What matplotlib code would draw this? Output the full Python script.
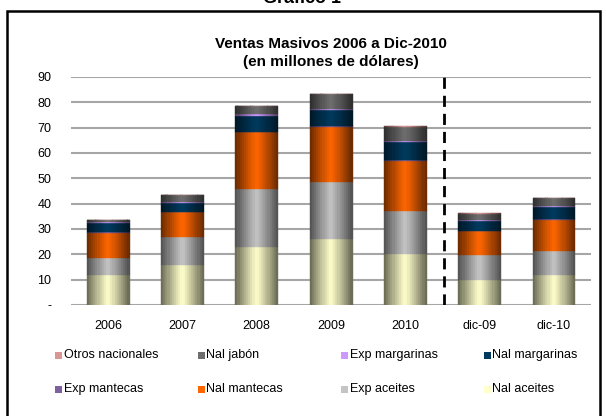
import numpy as np
import matplotlib
matplotlib.use("Agg")
import matplotlib.pyplot as plt
from matplotlib.colors import to_rgb
from matplotlib.patches import Rectangle

plt.rcParams["font.family"] = ["Liberation Sans", "DejaVu Sans"]

# ── Data (millones de dólares) ───────────────────────────────────────────────
categories = ["2006", "2007", "2008", "2009", "2010", "dic-09", "dic-10"]

nal_aceites = [11.9, 15.8, 22.9, 26.1, 20.2, 9.9, 11.9]
exp_aceites = [6.8, 11.1, 22.9, 22.5, 17.0, 9.9, 9.4]
nal_mantecas = [9.7, 9.7, 22.3, 21.8, 19.6, 9.4, 12.3]
exp_mantecas = [0.3, 0.3, 0.2, 0.2, 0.5, 0.2, 0.3]
nal_margarinas = [3.6, 3.3, 6.5, 6.3, 6.9, 3.8, 4.7]
exp_margarinas = [0.3, 0.5, 0.4, 0.5, 0.6, 0.3, 0.5]
nal_jabon = [1.0, 2.8, 3.5, 6.0, 5.3, 2.3, 3.0]
otros_nacionales = [0.0, 0.0, 0.0, 0.0, 0.7, 0.6, 0.3]

series = [
    ("Nal aceites", nal_aceites, "#FFFFCC"),
    ("Exp aceites", exp_aceites, "#C4C4C4"),
    ("Nal mantecas", nal_mantecas, "#FF6600"),
    ("Exp mantecas", exp_mantecas, "#7F609F"),
    ("Nal margarinas", nal_margarinas, "#003A5E"),
    ("Exp margarinas", exp_margarinas, "#CC99FF"),
    ("Nal jabón", nal_jabon, "#6E6E6E"),
    ("Otros nacionales", otros_nacionales, "#DA9694"),
]

W, H = 606, 416
BAR_W = 0.575
N_STRIPS = 20

fig = plt.figure(figsize=(W / 100, H / 100), dpi=100)
ax = fig.add_axes([71 / W, 1 - 305 / H, 520 / W, 228 / H])

# dark-light-dark horizontal shading, drawn as thin vertical strips
centers = (np.arange(N_STRIPS) + 0.5) / N_STRIPS
profile = 1 - np.abs(2 * centers - 1) ** 1.1
strip_w = BAR_W / N_STRIPS

x = np.arange(len(categories))
bottom = np.zeros(len(categories))
for name, vals, color in series:
    vals = np.array(vals, dtype=float)
    light = np.array(to_rgb(color))
    dark = light * 0.4
    for k in range(N_STRIPS):
        c = tuple(float(v) for v in dark + (light - dark) * profile[k])
        ax.bar(x - BAR_W / 2 + k * strip_w, vals, width=strip_w * 1.1,
               bottom=bottom.copy(), align="edge", color=c, edgecolor=c,
               linewidth=0.3, zorder=2 + k * 0.001)
    bottom = bottom + vals

# separator between annual totals and December values
ax.axvline(4.52, color="black", lw=2, ls=(0, (4, 2.5)), zorder=4)

ax.set_xlim(-0.5, 6.5)
ax.set_ylim(0, 90)
ax.set_yticks(np.arange(0, 91, 10))
ax.set_yticklabels(["-"] + [str(v) for v in range(10, 91, 10)])
ax.set_xticks(x)
ax.set_xticklabels(categories)
ax.tick_params(length=0, labelsize=9)
ax.tick_params(axis="y", pad=14)
ax.tick_params(axis="x", pad=11)
ax.grid(axis="y", color="#A6A6A6", lw=1.5, zorder=0)
ax.set_axisbelow(True)
for s in ax.spines.values():
    s.set_visible(False)

# titles
fig.text(302 / W, 1 - 3 / H, "Gráfico 1", ha="center", va="baseline",
         fontsize=13, fontweight="bold")
fig.text(331 / W, 1 - 44 / H, "Ventas Masivos 2006 a Dic-2010", ha="center",
         va="center", fontsize=11, fontweight="bold")
fig.text(331 / W, 1 - 62 / H, "(en millones de dólares)", ha="center",
         va="center", fontsize=11, fontweight="bold")

# legend (row-major, reverse of stacking order)
legend_items = list(reversed(series))
col_x = [55, 198, 341, 484]
row_y = [355, 389]
for i, (name, vals, color) in enumerate(legend_items):
    px = col_x[i % 4]
    py = row_y[i // 4]
    fig.add_artist(Rectangle((px / W, 1 - (py + 3.5) / H), 7 / W, 7 / H,
                             transform=fig.transFigure, color=color, lw=0))
    fig.text((px + 8.5) / W, 1 - py / H, name, ha="left", va="center",
             fontsize=9)

# outer frame
fig.add_artist(Rectangle((7 / W, -0.05), 593 / W, 1.05 - 11 / H,
                         transform=fig.transFigure, fill=False,
                         edgecolor="black", lw=1.8))

fig.savefig("out.png", dpi=100)
